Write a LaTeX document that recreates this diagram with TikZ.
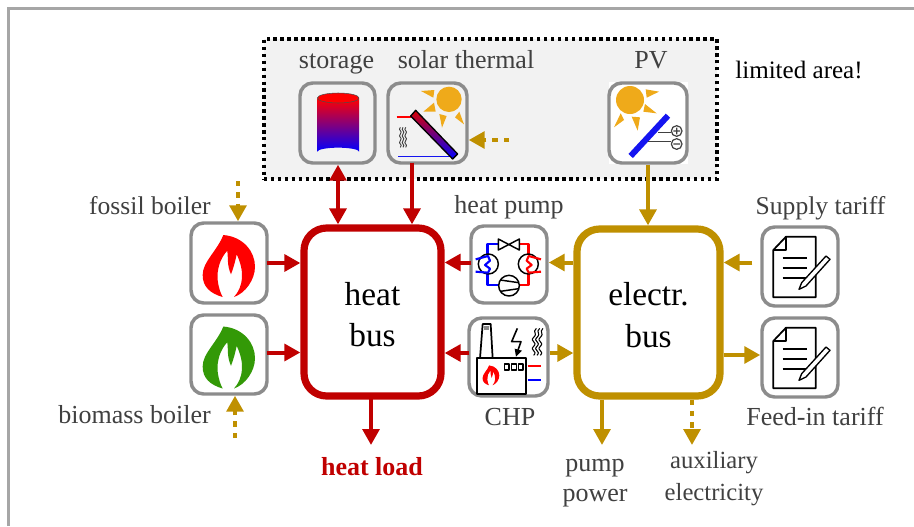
\documentclass[tikz,border=0pt]{standalone}
\usepackage{fontspec}
\setmainfont{Liberation Serif}
\usetikzlibrary{arrows.meta,calc}
\definecolor{hred}{HTML}{C00000}
\definecolor{gold}{HTML}{BF9000}
\definecolor{txt}{HTML}{404040}
\definecolor{sun}{HTML}{EFAA1A}
\definecolor{frame}{HTML}{A6A6A6}
\definecolor{area}{HTML}{F2F2F2}
\definecolor{edge}{HTML}{8C8C8C}
\definecolor{pblue}{HTML}{1414F0}
\definecolor{leaf}{HTML}{339907}
\tikzset{
  iconbox/.style={draw=edge,line width=2.6pt,rounded corners=9.5pt,fill=white,inner sep=0pt},
  bus/.style={line width=5.4pt,rounded corners=17pt,fill=white,inner sep=0pt,font=\fontsize{25}{31}\selectfont,align=center,text=black},
  lbl/.style={text=txt,font=\fontsize{19.5}{22.5}\selectfont,align=center,inner sep=0pt},
  tl/.style={lbl,anchor=base},
  redarrow/.style={draw=hred,line width=3pt,shorten <=-1.5pt,-{Triangle[length=12pt,width=12.5pt]}},
  redboth/.style={draw=hred,line width=3pt,{Triangle[length=12pt,width=12.5pt]}-{Triangle[length=12pt,width=12.5pt]}},
  goldarrow/.style={draw=gold,line width=3pt,-{Triangle[length=12pt,width=12.5pt]}},
  golddots/.style={draw=gold,line width=3pt,dash pattern=on 4pt off 4.5pt,-{Triangle[length=12pt,width=12.5pt]}},
  zoomed/.style={x=.25pt,y=-.25pt,line join=round},
  fine/.style={draw=black,line width=1.1pt},
  wave/.style={draw=txt,line width=.7pt},
}
% flame in zoom coordinates of the fossil icon
\newcommand{\flameshape}{(130,60) .. controls (190,65) and (225,110) .. (225,155)
  .. controls (225,195) and (195,235) .. (162,246)
  .. controls (190,215) and (195,170) .. (170,118)
  .. controls (167,135) and (160,160) .. (153,178)
  .. controls (140,150) and (145,125) .. (142,107)
  .. controls (120,130) and (110,165) .. (113,195)
  .. controls (116,220) and (122,235) .. (128,246)
  .. controls (90,235) and (68,215) .. (68,180)
  .. controls (68,140) and (110,110) .. (130,60) -- cycle}
\newcommand{\squiggle}[3]{%
  \draw[wave,#1] (#2,#3) .. controls ++(-9,10) and ++(9,-10) .. ++(0,20) .. controls ++(-9,10) and ++(9,-10) .. ++(0,20) .. controls ++(-9,10) and ++(9,-10) .. ++(0,20);}
\newcommand{\chpwave}[1]{%
  \draw[fine,line width=.8pt] (#1,325) .. controls ++(-14,13) and ++(14,-14) .. ++(-8,27) .. controls ++(-14,13) and ++(14,-14) .. ++(0,27) .. controls ++(-14,13) and ++(14,-14) .. ++(0,27);}
\newcommand{\docicon}{%
  \draw[fine,line width=1.3pt,fill=white] (70,90) -- (108,50) -- (197,50) -- (197,232) -- (70,232) -- cycle;
  \draw[fine,line width=1.3pt] (108,50) -- (108,90) -- (70,90);
  \draw[fine,line width=1.3pt] (98,113) -- (172,113) (98,143) -- (172,143) (98,173) -- (172,173);
  \draw[fine,line width=1pt,fill=white] (147,208) -- (155,188) -- (228,108) -- (240,118) -- (168,198) -- cycle;
}
\begin{document}
\begin{tikzpicture}[x=.75pt,y=-.75pt]
\useasboundingbox (0,0) rectangle (914,526);
\fill[white] (0,0) rectangle (914,526);
\draw[frame,line width=2.2pt] (8.5,526) -- (8.5,8.5) -- (914,8.5);

% limited area
\node[draw=black,fill=area,line width=2.4pt,dash pattern=on 2.6pt off 2.6pt,minimum width=453*.75pt,minimum height=140*.75pt,inner sep=0pt] (areabox) at (490.5,109) {};
\fill[white] (608.5,82) rectangle (688,164);

% icon boxes
\node[iconbox,fill=area,minimum width=75*.75pt,minimum height=80*.75pt] (storage) at (337.5,123) {};
\node[iconbox,fill=area,minimum width=79*.75pt,minimum height=80*.75pt] (solar) at (427.5,123) {};
\node[iconbox,minimum width=78*.75pt,minimum height=80*.75pt] (pv) at (648,123) {};
\node[iconbox,minimum width=76*.75pt,minimum height=80*.75pt] (fossil) at (229,263) {};
\node[iconbox,minimum width=76*.75pt,minimum height=79*.75pt] (biomass) at (229,354.5) {};
\node[iconbox,minimum width=76*.75pt,minimum height=77*.75pt] (hp) at (509,264.5) {};
\node[iconbox,minimum width=79*.75pt,minimum height=78*.75pt] (chp) at (508.5,357) {};
\node[iconbox,minimum width=76*.75pt,minimum height=79*.75pt] (supply) at (800,266.5) {};
\node[iconbox,minimum width=76*.75pt,minimum height=79*.75pt] (feedin) at (800,357.5) {};

% buses
\node[bus,draw=hred,minimum width=137*.75pt,minimum height=168*.75pt] (heatbus) at (372.5,312) {\rule{0pt}{21pt}heat\\bus};
\node[bus,draw=gold,minimum width=143*.75pt,minimum height=167*.75pt] (elbus) at (648.5,312.5) {\rule{0pt}{21pt}electr.\\bus};

% labels
\node[tl] (lstorage) at (336.5,68) {storage};
\node[tl] (lsolar) at (466,68) {solar thermal};
\node[tl] (lpv) at (651,68) {PV};
\node[tl,text=black,font=\fontsize{18.8}{22}\selectfont] (larea) at (799,78) {limited area!};
\node[lbl,anchor=base east,font=\fontsize{19.2}{22.5}\selectfont] (lfossil) at (211,214) {fossil boiler};
\node[lbl,anchor=base east] (lbiomass) at (211,423) {biomass boiler};
\node[tl] (lhp) at (509,213) {heat pump};
\node[tl] (lchp) at (510,425) {CHP};
\node[tl,font=\fontsize{19.2}{22.5}\selectfont] (lsupply) at (820.5,214) {Supply tariff};
\node[tl] (lfeed) at (815,425) {Feed-in tariff};
\node[tl,text=hred,font=\fontsize{19.5}{22.5}\selectfont\bfseries] (lload) at (372,475) {heat load};
\node[lbl] (lpump) at (595,483) {pump\\power};
\node[lbl,font=\fontsize{18.5}{24}\selectfont] (laux) at (714,479) {auxiliary\\electricity};

% free ends
\coordinate (fossilin) at (238,181);
\coordinate (biomassin) at (235,438);
\coordinate (solarin) at (509,140);
\coordinate (pumpend) at (602,445);
\coordinate (auxend) at (692,445);
\coordinate (loadend) at (371,445);

% connectors
\draw[redboth] (storage.south -| 338,0) -- (heatbus.north -| 338,0);
\draw[redarrow] (solar.south -| 412,0) -- (heatbus.north -| 412,0);
\draw[redarrow] (fossil.east) -- (fossil.east -| heatbus.west);
\draw[redarrow] (biomass.east) ++(0,-2) -- (heatbus.west |- 0,352.5);
\draw[redarrow] (hp.west) ++(0,-2) -- (heatbus.east |- 0,262.5);
\draw[redarrow] (chp.west) ++(0,-4) -- (heatbus.east |- 0,353);
\draw[redarrow] (heatbus.south -| loadend) -- (loadend);
\draw[goldarrow] (elbus.west |- 0,262.5) -- (hp.east |- 0,262.5);
\draw[goldarrow] (chp.east |- 0,353) -- (elbus.west |- 0,353);
\draw[goldarrow,shorten <=6pt] (supply.west |- 0,262.5) -- (elbus.east |- 0,262.5);
\draw[goldarrow] (elbus.east |- 0,355) -- (feedin.west |- 0,355);
\draw[goldarrow] (pv.south) -- (elbus.north -| pv.south);
\draw[goldarrow] (elbus.south -| pumpend) -- (pumpend);
\draw[golddots] (elbus.south -| auxend) -- (auxend);
\draw[golddots] (fossilin) -- (fossil.north -| fossilin);
\draw[golddots] (biomassin) -- (biomass.south -| biomassin);
\draw[golddots] (solarin) -- (solar.east |- solarin);

% storage + solar thermal icons
\begin{scope}[shift={(260,30)},zoomed]
  \shade[top color=red,bottom color=blue,draw=none] (172,205) -- (172,365) arc[start angle=180,end angle=360,x radius=62.5,y radius=12] -- (297,205) -- cycle;
  \draw[fill=red,draw=black!70,line width=.4pt] (234.5,204) ellipse[x radius=62.5,y radius=15];
  \fill[sun] (567,208) circle[radius=38];
  \fill[sun] (483,183) -- (523,180) -- (520,203) -- cycle
             (490,245) -- (522,218) -- (527,245) -- cycle
             (538,252) -- (560,258) -- (546,293) -- cycle
             (585,262) -- (598,245) -- (612,283) -- cycle;
  \draw[red,line width=.9pt] (410,261) -- (452,261);
  \draw[pblue,line width=1pt] (415,379) -- (575,379);
  \shade[top color=red!85!black,bottom color=blue,draw=black,line width=1pt] (452,258) -- (467,241) -- (593,372) -- (578,387) -- cycle;
  \squiggle{}{421}{292}
  \squiggle{}{429}{292}
  \squiggle{}{437}{292}
\end{scope}

% PV icon
\begin{scope}[shift={(590,30)},zoomed]
  \fill[sun] (120,210) circle[radius=42];
  \fill[sun] (167,178) -- (207,185) -- (170,203) -- cycle
             (165,222) -- (200,250) -- (160,245) -- cycle
             (125,260) -- (150,262) -- (143,302) -- cycle
             (92,250) -- (102,270) -- (72,292) -- cycle;
  \draw[pblue,line width=4.5pt] (122,378) -- (234,257);
  \draw[txt,line width=1.2pt] (205,307) -- (242,307) (175,335) -- (242,335);
  \draw[txt,line width=.9pt] (260,303) circle[radius=16] (260,342) circle[radius=16]
     (250,303) -- (270,303) (260,293) -- (260,313) (250,342) -- (270,342);
\end{scope}

% flames
\begin{scope}[shift={(180,215)},zoomed]
  \fill[red] \flameshape;
\end{scope}
\begin{scope}[shift={(180,306.5)},zoomed]
  \fill[leaf] \flameshape;
\end{scope}

% heat pump + CHP icons
\begin{scope}[shift={(460,220)},zoomed]
  \draw[blue,line width=2pt] (83,108) -- (83,72) -- (115,72) (83,155) -- (83,195) -- (116,195);
  \draw[red,line width=2pt] (178,72) -- (205,72) -- (205,108) (205,155) -- (205,195) -- (178,195);
  \draw[fine,fill=white] (115,57) -- (178,90) -- (178,57) -- (115,90) -- cycle;
  \draw[fine,fill=white] (147,197) circle[radius=31];
  \draw[fine] (121,180) -- (176,188) (121,214) -- (176,206);
  \draw[fine,fill=white] (85,132) circle[radius=30] (205,132) circle[radius=30];
  \draw[blue,line width=1.6pt] (47,118) -- (84,108) -- (90,122) -- (75,135) -- (90,146) -- (84,158) -- (47,155);
  \draw[red,line width=1.6pt] (243,118) -- (206,108) -- (200,122) -- (215,135) -- (200,146) -- (206,158) -- (243,155);
  % CHP
  \draw[fine,line width=1.3pt,fill=white] (68,312) -- (92,312) -- (98,415) -- (60,415) -- cycle;
  \fill[edge] (72,318) rectangle (88,330);
  \draw[fine,line width=1.3pt,fill=white] (52,415) rectangle (198,522);
  \draw[fine,line width=1.2pt] (172,325) -- (155,365) -- (183,365) -- (174,390);
  \fill[black] (164,386) -- (186,392) -- (168,410) -- cycle;
  \draw[fine,line width=1pt] (133,432) rectangle (147,450) (155,432) rectangle (169,450) (175,432) rectangle (189,450);
  \draw[red,line width=1.2pt] (203,438) -- (243,438);
  \draw[blue,line width=1.2pt] (203,480) -- (243,480);
  \chpwave{229}
  \chpwave{239}
  \chpwave{249}
\end{scope}
\begin{scope}[shift={(475.3,359)},x=.08pt,y=-.08pt]
  \fill[red] \flameshape;
\end{scope}

% tariff icons
\begin{scope}[shift={(750,220)},zoomed]
  \docicon
\end{scope}
\begin{scope}[shift={(750,311)},zoomed]
  \docicon
\end{scope}
\end{tikzpicture}
\end{document}
